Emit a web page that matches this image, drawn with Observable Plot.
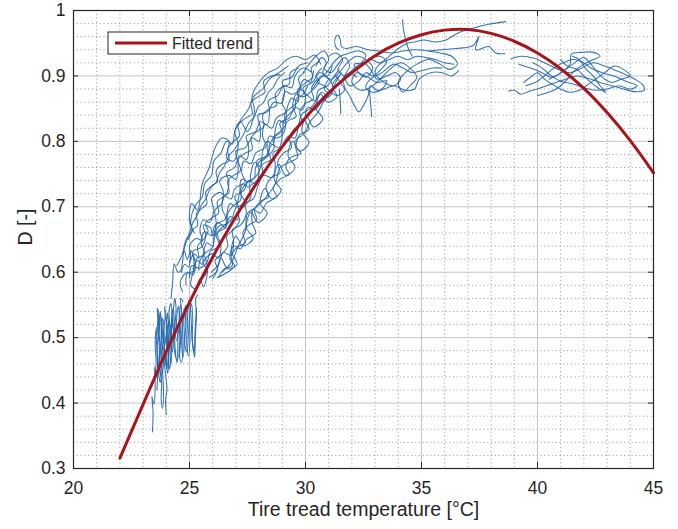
<!DOCTYPE html>
<html><head><meta charset="utf-8">
<script src="https://cdn.jsdelivr.net/npm/d3@7"></script>
<script src="https://cdn.jsdelivr.net/npm/@observablehq/plot@0.6"></script>
<style>body{margin:0;background:#fff;} #chart{position:relative;width:678px;height:529px;}</style>
</head><body><div id="chart"></div>
<script>
// Axis ticks
const xTicks = [20, 25, 30, 35, 40, 45];
const yTicks = [0.3, 0.4, 0.5, 0.6, 0.7, 0.8, 0.9, 1];
const xMinor = [21,22,23,24,26,27,28,29,31,32,33,34,36,37,38,39,41,42,43,44];
const yMinor = [0.32,0.34,0.36,0.38,0.42,0.44,0.46,0.48,0.52,0.54,0.56,0.58,0.62,0.64,0.66,0.68,0.72,0.74,0.76,0.78,0.82,0.84,0.86,0.88,0.92,0.94,0.96,0.98];

// Fitted trend
const fitTemp = [22,23,24,25,26,27,28,29,30,31,32,33,34,35,36,37,38,39,40,41,42,43,44,45];
const fitD = [0.316,0.398,0.479,0.554,0.623,0.685,0.742,0.792,0.836,0.874,0.905,0.931,0.950,0.963,0.970,0.971,0.965,0.953,0.935,0.911,0.881,0.844,0.801,0.752];

// Measured traces [temperature, D]
const lowA = [[23.40,0.356],[23.43,0.385],[23.38,0.410],[23.47,0.398],[23.52,0.425],[23.50,0.455],[23.58,0.440],[23.62,0.470],[23.57,0.500],[23.64,0.528],[23.61,0.545],[23.70,0.535],[23.68,0.505],[23.75,0.488],[23.72,0.455],[23.80,0.430],[23.78,0.405],[23.84,0.392],[23.88,0.418],[23.85,0.450],[23.92,0.472],[23.88,0.505],[23.95,0.532],[23.93,0.548],[24.00,0.525],[24.04,0.498],[23.99,0.470],[24.06,0.445],[24.10,0.462],[24.08,0.492],[24.15,0.515],[24.12,0.540],[24.20,0.552],[24.24,0.528],[24.19,0.500],[24.26,0.478],[24.30,0.500],[24.28,0.530]];
const lowB = [[24.00,0.382],[23.97,0.405],[24.03,0.420],[23.98,0.440],[23.90,0.465],[23.83,0.490],[23.78,0.515],[23.74,0.540],[23.80,0.525],[23.86,0.500],[23.93,0.488],[24.00,0.505],[24.08,0.478],[24.14,0.452],[24.20,0.470],[24.18,0.505],[24.26,0.522],[24.34,0.505],[24.40,0.475],[24.46,0.462],[24.50,0.495],[24.44,0.525],[24.52,0.548],[24.58,0.530],[24.62,0.498],[24.58,0.470],[24.66,0.462],[24.72,0.490],[24.70,0.520],[24.78,0.545],[24.84,0.520],[24.80,0.490],[24.88,0.478],[24.95,0.505],[24.92,0.535],[25.00,0.558],[25.06,0.535],[25.10,0.505],[25.16,0.482],[25.22,0.470],[25.25,0.500],[25.30,0.535],[25.27,0.560],[25.35,0.565]];
const lowC = [[23.50,0.440],[23.56,0.462],[23.52,0.490],[23.58,0.515],[23.66,0.502],[23.70,0.478],[23.66,0.450],[23.74,0.432],[23.82,0.448],[23.78,0.470],[23.86,0.486],[23.95,0.470],[24.02,0.452],[24.10,0.488],[24.05,0.515],[24.12,0.525],[24.22,0.512],[24.30,0.540],[24.36,0.560],[24.42,0.545],[24.38,0.515],[24.45,0.495],[24.55,0.515],[24.65,0.540],[24.62,0.560],[24.72,0.555]];
const lowD = [[24.20,0.560],[24.27,0.583],[24.34,0.613],[24.50,0.600],[24.63,0.603],[24.77,0.633],[24.90,0.620],[25.06,0.633],[25.20,0.612],[25.06,0.580],[25.25,0.575],[25.45,0.590],[25.60,0.578],[25.78,0.603],[25.65,0.625]];
const lowE = [[23.60,0.420],[23.63,0.452],[23.60,0.480],[23.66,0.512],[23.64,0.538],[23.70,0.520],[23.73,0.490],[23.70,0.462],[23.76,0.442],[23.82,0.468],[23.80,0.500],[23.85,0.530],[23.90,0.515],[23.92,0.482],[23.98,0.458],[24.02,0.482],[24.00,0.515],[24.06,0.538],[24.10,0.515],[24.14,0.485],[24.20,0.460],[24.24,0.490],[24.22,0.520],[24.30,0.545],[24.35,0.520],[24.33,0.488],[24.40,0.470]];
const lowF = [[24.55,0.470],[24.58,0.500],[24.55,0.528],[24.62,0.550],[24.68,0.525],[24.66,0.492],[24.72,0.470],[24.78,0.498],[24.76,0.530],[24.85,0.550],[24.90,0.520],[24.88,0.490],[24.95,0.472],[25.02,0.495],[25.00,0.530],[25.08,0.552],[25.14,0.528],[25.12,0.495],[25.20,0.478],[25.24,0.510],[25.30,0.545]];
const bandA = [[24.65,0.600],[24.80,0.612],[24.95,0.608],[25.05,0.625],[25.00,0.640],[25.30,0.652],[25.55,0.648],[25.45,0.665],[25.60,0.680],[25.85,0.676],[26.05,0.695],[25.95,0.712],[26.30,0.722],[26.55,0.718],[26.70,0.738],[26.60,0.752],[26.95,0.760],[27.15,0.778],[27.45,0.772],[27.55,0.792],[27.45,0.808],[27.85,0.815],[28.05,0.830],[28.35,0.826],[28.45,0.848],[28.40,0.862],[28.80,0.870],[29.05,0.885],[29.40,0.882],[29.55,0.900],[29.90,0.912],[30.25,0.906]];
const bandB = [[25.55,0.590],[25.75,0.602],[25.60,0.615],[25.95,0.628],[26.25,0.622],[26.35,0.642],[26.20,0.660],[26.55,0.668],[26.75,0.685],[27.05,0.680],[27.10,0.700],[26.95,0.716],[27.35,0.725],[27.55,0.740],[27.85,0.735],[28.00,0.755],[27.90,0.770],[28.30,0.778],[28.55,0.795],[28.85,0.790],[29.00,0.812],[28.90,0.828],[29.30,0.836],[29.55,0.852],[29.85,0.848],[30.00,0.868],[29.90,0.882],[30.30,0.890],[30.60,0.905],[30.95,0.900],[31.15,0.915]];
const bandC = [[24.70,0.570],[24.60,0.585],[24.90,0.600],[25.15,0.596],[25.25,0.615],[25.15,0.632],[25.50,0.638],[25.70,0.655],[25.60,0.672],[25.90,0.668],[26.00,0.655],[26.15,0.675],[26.10,0.695],[26.40,0.705],[26.45,0.724],[26.30,0.740],[26.70,0.748],[27.00,0.742],[27.10,0.765],[27.00,0.785],[27.40,0.790],[27.70,0.805],[28.00,0.800],[28.05,0.822],[27.95,0.840],[28.35,0.845],[28.65,0.860],[28.95,0.858],[29.10,0.878],[29.00,0.892],[29.40,0.898],[29.70,0.915],[30.10,0.920]];
const bandD = [[25.95,0.600],[26.25,0.612],[26.45,0.630],[26.80,0.626],[26.90,0.648],[26.85,0.665],[27.20,0.672],[27.45,0.690],[27.40,0.705],[27.75,0.712],[27.95,0.732],[28.20,0.748],[28.55,0.745],[28.70,0.765],[28.60,0.782],[28.95,0.790],[29.25,0.808],[29.55,0.805],[29.70,0.825],[29.85,0.842],[30.20,0.850],[30.45,0.862],[30.55,0.878],[30.95,0.885],[31.20,0.898],[31.45,0.910]];
const bandE = [[25.15,0.605],[25.35,0.618],[25.55,0.612],[25.60,0.630],[25.75,0.645],[26.00,0.640],[26.10,0.660],[26.35,0.672],[26.55,0.668],[26.60,0.688],[26.75,0.705],[27.00,0.700],[27.15,0.720],[27.30,0.735],[27.55,0.730],[27.65,0.752],[27.80,0.768],[28.05,0.762],[28.15,0.785],[28.35,0.800],[28.60,0.795],[28.70,0.818],[28.85,0.832],[29.10,0.828],[29.20,0.850],[29.40,0.866],[29.65,0.862],[29.75,0.882],[29.95,0.895],[30.20,0.890],[30.35,0.908]];
const bandF = [[24.45,0.610],[24.70,0.628],[24.85,0.650],[25.10,0.662],[25.05,0.680],[25.25,0.702],[25.55,0.715],[25.65,0.735],[25.95,0.748],[26.05,0.770],[26.35,0.782],[26.60,0.800],[26.85,0.796],[26.95,0.815],[27.25,0.835],[27.55,0.850],[27.75,0.868],[28.15,0.880],[28.45,0.895],[28.85,0.905],[29.25,0.915]];
const bandG = [[30.70,0.912],[30.45,0.900],[30.60,0.892],[30.20,0.875],[29.90,0.868],[29.60,0.872],[29.45,0.852],[29.60,0.838],[29.20,0.830],[29.05,0.812],[28.75,0.805],[28.45,0.808],[28.35,0.788],[28.50,0.772],[28.15,0.765],[27.90,0.748],[27.55,0.738],[27.25,0.742],[27.20,0.720],[27.40,0.706],[27.00,0.698],[26.80,0.680],[26.45,0.672],[26.20,0.676],[26.15,0.655],[26.30,0.640],[25.90,0.632],[25.75,0.615],[25.40,0.606],[25.10,0.610],[25.00,0.592]];
const bandH = [[29.95,0.905],[29.70,0.896],[29.80,0.880],[29.40,0.872],[29.15,0.876],[29.00,0.858],[29.15,0.845],[28.75,0.836],[28.55,0.820],[28.25,0.826],[28.15,0.808],[28.30,0.792],[27.85,0.782],[27.65,0.766],[27.35,0.770],[27.25,0.752],[27.40,0.738],[26.95,0.728],[26.80,0.712],[26.50,0.716],[26.40,0.698],[26.55,0.682],[26.10,0.672],[25.95,0.656],[25.65,0.662],[25.50,0.645],[25.65,0.628],[25.30,0.620],[25.20,0.602],[24.90,0.598],[24.85,0.580]];
const bandI = [[31.00,0.895],[30.80,0.880],[31.00,0.872],[30.65,0.858],[30.40,0.848],[30.10,0.852],[30.00,0.832],[30.15,0.818],[29.75,0.810],[29.60,0.792],[29.80,0.782],[29.35,0.775],[29.15,0.760],[29.30,0.750],[28.90,0.742],[28.60,0.728],[28.75,0.716],[28.30,0.705],[28.05,0.690],[27.75,0.696],[27.70,0.676],[27.85,0.660],[27.45,0.650],[27.20,0.636],[26.90,0.640],[26.75,0.620],[26.95,0.610],[26.55,0.598],[26.20,0.592]];
const bandJ = [[25.20,0.660],[25.00,0.680],[25.10,0.705],[25.35,0.695],[25.55,0.735],[25.85,0.760],[26.10,0.790],[26.40,0.805],[26.70,0.800],[26.60,0.775],[26.90,0.770],[27.10,0.795],[26.95,0.815],[27.20,0.830],[27.50,0.815],[27.80,0.845],[27.70,0.870],[28.00,0.890],[28.40,0.905],[28.80,0.912],[29.20,0.925],[29.60,0.930],[30.00,0.925],[30.40,0.932],[30.65,0.918]];
const bandK = [[26.40,0.600],[26.80,0.615],[27.10,0.640],[27.40,0.662],[27.50,0.690],[27.90,0.700],[28.30,0.715],[28.70,0.735],[28.90,0.760],[29.30,0.768],[29.65,0.775],[29.55,0.800],[29.95,0.812],[30.20,0.830],[30.55,0.845],[30.80,0.862],[31.05,0.872],[31.30,0.890],[31.55,0.905]];
const bandL = [[31.45,0.900],[31.15,0.885],[31.35,0.868],[30.95,0.860],[30.65,0.872],[30.45,0.850],[30.75,0.835],[30.35,0.822],[30.05,0.838],[29.85,0.815],[30.15,0.798],[29.75,0.785],[29.45,0.800],[29.25,0.778],[29.55,0.760],[29.15,0.748],[28.85,0.765],[28.65,0.742],[28.95,0.725],[28.55,0.712],[28.25,0.728],[28.05,0.705],[28.35,0.690],[27.95,0.676],[27.65,0.692],[27.45,0.668],[27.75,0.652],[27.30,0.640],[27.00,0.655],[26.80,0.632],[27.05,0.612],[26.65,0.605],[26.35,0.622],[26.15,0.600],[25.85,0.592]];
const bandM = [[25.00,0.615],[25.20,0.628],[25.40,0.622],[25.35,0.640],[25.60,0.650],[25.80,0.662],[25.70,0.675],[25.95,0.683],[26.25,0.690],[26.20,0.708],[26.45,0.715],[26.70,0.722],[26.65,0.740],[26.90,0.748],[27.20,0.755],[27.10,0.772],[27.40,0.782],[27.70,0.788],[27.65,0.805],[27.90,0.815],[28.20,0.822],[28.15,0.840],[28.45,0.850],[28.75,0.855],[28.70,0.872],[28.95,0.882],[29.30,0.888],[29.35,0.905],[29.70,0.912]];
const bandN = [[30.50,0.895],[30.25,0.880],[30.35,0.865],[30.00,0.858],[29.75,0.845],[29.85,0.828],[29.50,0.818],[29.30,0.805],[29.40,0.790],[29.05,0.782],[28.80,0.768],[28.90,0.752],[28.55,0.745],[28.30,0.730],[28.40,0.715],[28.05,0.708],[27.80,0.695],[27.90,0.680],[27.55,0.672],[27.30,0.660],[27.40,0.645],[27.05,0.638],[26.80,0.625],[26.85,0.610],[26.50,0.605],[26.25,0.592]];
const bandO = [[24.95,0.650],[25.15,0.665],[25.35,0.672],[25.30,0.690],[25.55,0.698],[25.75,0.705],[25.70,0.722],[25.95,0.732],[26.20,0.738],[26.15,0.755],[26.40,0.765],[26.70,0.770],[26.65,0.788],[26.90,0.800],[27.15,0.808],[27.10,0.825],[27.40,0.835],[27.70,0.842],[27.65,0.860],[27.95,0.868],[28.25,0.875],[28.20,0.892],[28.55,0.900],[28.90,0.902]];
const bandP = [[30.10,0.885],[29.85,0.870],[29.60,0.865],[29.55,0.850],[29.30,0.842],[29.05,0.830],[29.00,0.815],[28.70,0.808],[28.45,0.795],[28.40,0.780],[28.10,0.772],[27.85,0.760],[27.80,0.745],[27.50,0.738],[27.25,0.725],[27.20,0.710],[26.90,0.702],[26.65,0.690],[26.60,0.675],[26.30,0.665],[26.05,0.652],[26.00,0.638],[25.70,0.630],[25.45,0.618],[25.40,0.603]];
const bandQ = [[26.00,0.590],[26.20,0.605],[26.10,0.618],[26.40,0.628],[26.65,0.640],[26.60,0.655],[26.90,0.665],[27.15,0.678],[27.10,0.692],[27.40,0.702],[27.65,0.715],[27.60,0.730],[27.90,0.740],[28.15,0.752],[28.10,0.768],[28.40,0.778],[28.65,0.790],[28.60,0.805],[28.90,0.815],[29.15,0.826],[29.10,0.842],[29.40,0.852],[29.70,0.862],[29.65,0.878],[29.95,0.888],[30.30,0.898],[30.25,0.912],[30.60,0.922]];
const bandR = [[29.10,0.905],[28.80,0.895],[28.60,0.882],[28.40,0.875],[28.20,0.860],[27.95,0.852],[27.80,0.838],[27.55,0.828],[27.35,0.812],[27.15,0.800],[26.95,0.788],[26.70,0.778],[26.50,0.762],[26.30,0.752],[26.15,0.738],[25.90,0.728],[25.70,0.712],[25.50,0.702],[25.35,0.688],[25.15,0.676],[25.00,0.660],[24.85,0.645],[24.70,0.628]];
const topA = [[30.45,0.915],[30.70,0.928],[30.90,0.920],[30.75,0.905],[31.10,0.895],[31.45,0.905],[31.80,0.920],[32.20,0.930],[32.60,0.925],[32.90,0.912],[32.60,0.898],[32.20,0.905],[32.00,0.890],[32.40,0.878],[32.90,0.885],[33.30,0.898],[33.70,0.912],[34.10,0.920],[34.50,0.912],[34.80,0.898],[34.50,0.885],[34.20,0.875],[34.00,0.890],[34.30,0.905],[34.80,0.918],[35.30,0.925],[35.80,0.918],[36.20,0.910],[36.55,0.918],[36.30,0.930],[35.80,0.935],[35.30,0.938],[34.70,0.940],[34.20,0.938],[33.70,0.935],[33.20,0.938],[32.70,0.940],[32.20,0.945],[31.75,0.942],[31.55,0.945],[31.50,0.955],[31.40,0.962],[31.28,0.958],[31.30,0.945],[31.42,0.940]];
const topB = [[32.00,0.905],[32.40,0.915],[32.80,0.925],[33.20,0.920],[33.60,0.930],[34.00,0.942],[34.40,0.950],[34.70,0.952],[35.10,0.955],[35.60,0.952],[36.05,0.955],[36.60,0.966],[37.20,0.973],[37.90,0.979],[38.63,0.983]];
const topC = [[34.60,0.930],[34.40,0.945],[34.30,0.958],[34.22,0.972],[34.18,0.986]];
const topD = [[35.30,0.938],[35.90,0.940],[36.50,0.942],[37.00,0.944],[37.27,0.948],[37.48,0.961],[37.34,0.940],[37.91,0.945],[38.20,0.935],[38.60,0.934]];
const topE = [[31.30,0.900],[31.60,0.885],[31.90,0.870],[32.10,0.855],[32.30,0.845],[32.50,0.855],[32.70,0.870],[32.80,0.885],[33.10,0.878],[33.40,0.880],[33.80,0.885],[34.30,0.878],[34.70,0.880],[34.90,0.895],[35.40,0.905],[35.90,0.905],[36.30,0.900],[36.60,0.908]];
const topF = [[32.75,0.880],[32.80,0.860],[32.85,0.838]];
const topG = [[31.45,0.880],[31.50,0.860],[31.52,0.842]];
const topH = [[29.90,0.905],[30.20,0.920],[30.50,0.932],[30.80,0.938],[31.00,0.925],[30.80,0.912],[31.10,0.905],[31.40,0.918],[31.70,0.928],[31.90,0.915],[31.70,0.900],[31.90,0.885],[32.30,0.892],[32.60,0.905],[32.90,0.900],[33.20,0.908],[33.50,0.922],[33.20,0.930],[32.90,0.928]];
const topI = [[31.00,0.930],[31.30,0.935],[31.60,0.925],[31.40,0.910],[31.70,0.900],[32.10,0.912],[32.50,0.920],[32.80,0.910],[33.10,0.895],[33.50,0.900],[33.90,0.905],[34.10,0.895],[33.80,0.885],[33.40,0.890],[33.00,0.905],[33.20,0.918],[33.60,0.925],[34.00,0.930],[34.40,0.925],[34.80,0.930],[35.20,0.928],[35.60,0.925],[36.00,0.920],[36.40,0.918]];
const topJ = [[30.30,0.880],[30.60,0.895],[30.90,0.905],[31.20,0.920],[31.50,0.930],[31.90,0.935],[32.30,0.938],[32.60,0.932],[32.40,0.920],[32.10,0.918],[32.30,0.905],[32.70,0.898],[33.10,0.890],[33.50,0.893],[33.30,0.880],[32.90,0.875],[32.60,0.882],[32.80,0.895],[33.30,0.905],[33.80,0.918],[34.20,0.912],[34.60,0.905],[35.00,0.908],[35.50,0.912],[35.90,0.912]];
const topK = [[29.80,0.880],[30.10,0.870],[30.40,0.862],[30.70,0.875],[31.00,0.868],[31.20,0.880],[31.00,0.895],[30.70,0.900],[30.50,0.890],[30.80,0.885],[31.10,0.875],[31.40,0.870],[31.70,0.880],[31.60,0.895],[31.90,0.905],[32.20,0.898]];
const rightA = [[38.85,0.926],[39.30,0.930],[39.85,0.927],[40.43,0.918],[40.90,0.910],[41.40,0.905],[41.90,0.912],[42.40,0.920],[42.90,0.915],[43.40,0.908],[43.80,0.902],[44.20,0.895],[44.55,0.886],[44.60,0.878],[44.20,0.876],[43.70,0.880],[43.20,0.885],[42.70,0.890],[42.20,0.896],[41.70,0.900],[41.20,0.895],[40.80,0.890],[40.40,0.885],[40.00,0.880],[39.60,0.876],[39.28,0.872],[39.00,0.878],[38.75,0.877]];
const rightB = [[39.20,0.918],[39.70,0.912],[40.20,0.905],[40.60,0.898],[41.00,0.905],[41.40,0.918],[41.45,0.933],[41.90,0.936],[42.44,0.936],[42.70,0.930],[42.40,0.925],[42.00,0.918],[41.60,0.908],[41.30,0.895],[41.00,0.885],[40.70,0.878],[40.30,0.873],[40.00,0.870]];
const rightC = [[40.50,0.895],[40.90,0.902],[41.30,0.912],[41.60,0.920],[42.00,0.928],[42.30,0.918],[42.60,0.905],[42.90,0.895],[43.20,0.890],[43.60,0.895],[44.00,0.900],[43.70,0.910],[43.30,0.915],[42.90,0.905],[42.50,0.895],[42.10,0.885],[41.80,0.878],[41.40,0.875],[41.00,0.880],[40.60,0.888],[40.30,0.895],[40.00,0.905],[39.70,0.898],[39.40,0.890]];
const rightD = [[41.00,0.925],[41.30,0.915],[41.70,0.910],[42.00,0.900],[42.30,0.890],[42.60,0.882],[42.95,0.875],[42.70,0.885],[42.40,0.900],[42.10,0.910],[41.80,0.925],[41.50,0.930]];
const rightE = [[39.50,0.885],[39.90,0.890],[40.30,0.900],[40.70,0.912],[41.10,0.920],[41.50,0.925],[41.90,0.922],[42.30,0.912],[42.80,0.905],[43.30,0.900],[43.80,0.892],[44.30,0.885],[44.00,0.880],[43.50,0.885],[43.00,0.880],[42.50,0.878],[42.00,0.882],[41.50,0.888],[41.00,0.892],[40.60,0.900],[40.20,0.912],[39.80,0.920]];

const traces = {lowA, lowB, lowC, lowD, lowE, lowF, bandA, bandB, bandC, bandD, bandE, bandF, bandG, bandH, bandI, bandJ, bandK, bandL, bandM, bandN, bandO, bandP, bandQ, bandR, topA, topB, topC, topD, topE, topF, topG, topH, topI, topJ, topK, rightA, rightB, rightC, rightD, rightE};
const measured = Object.entries(traces).flatMap(([id, pts]) => pts.map(([t, d]) => ({id, t, d})));
const fitted = fitTemp.map((t, i) => ({t, d: fitD[i]}));

const FONT = "'Liberation Sans', Arial, Helvetica, sans-serif";
const INK = "#262626";
const RED = "#a8141a";

const chart = Plot.plot({
  width: 678, height: 529,
  marginLeft: 73, marginRight: 25, marginTop: 10, marginBottom: 61,
  x: {domain: [20, 45]},
  y: {domain: [0.3, 1]},
  style: {fontFamily: FONT, fontSize: "17.5px", color: INK, background: "#fff"},
  marks: [
    Plot.gridX(xMinor, {stroke: "#8c8c8c", strokeOpacity: 0.8, strokeDasharray: "1.2,2.6"}),
    Plot.gridY(yMinor, {stroke: "#8c8c8c", strokeOpacity: 0.8, strokeDasharray: "1.2,2.6"}),
    Plot.gridX(xTicks, {stroke: "#c4c4c4", strokeOpacity: 1}),
    Plot.gridY(yTicks, {stroke: "#c4c4c4", strokeOpacity: 1}),
    Plot.line(measured, {x: "t", y: "d", z: "id", stroke: "#1f65ad", strokeWidth: 1.05, strokeOpacity: 0.9, curve: "catmull-rom"}),
    Plot.line(fitted, {x: "t", y: "d", stroke: RED, strokeWidth: 3, curve: "natural"}),
    Plot.frame({stroke: INK, strokeWidth: 1.2}),
    Plot.ruleX(xTicks, {insetTop: 452, stroke: INK}),
    Plot.ruleX(xTicks, {insetBottom: 452, stroke: INK}),
    Plot.ruleY(yTicks, {insetRight: 575, stroke: INK}),
    Plot.ruleY(yTicks, {insetLeft: 575, stroke: INK}),
    Plot.axisX(xTicks, {tickSize: 0, tickPadding: 13, label: null}),
    Plot.axisY(yTicks, {tickSize: 0, tickPadding: 8, label: null, tickFormat: d => d === 1 ? "1" : d.toFixed(1)}),
    Plot.text(["Tire tread temperature [°C]"], {text: d => d, frameAnchor: "bottom", dy: 47, fontSize: 19.5, fill: INK}),
    Plot.text(["D [-]"], {text: d => d, frameAnchor: "left", dx: -48, dy: 6, rotate: -90, fontSize: 19.5, fill: INK})
  ]
});

document.getElementById("chart").appendChild(chart);

// Legend box inside the plot area
const svg = d3.select(chart.tagName === "svg" ? chart : chart.querySelector("svg"));
const lg = svg.append("g").attr("class", "legend").attr("text-anchor", "start");
lg.append("rect").attr("x", 108).attr("y", 32).attr("width", 150).attr("height", 22)
  .attr("fill", "#fff").attr("stroke", INK).attr("stroke-width", 1);
lg.append("line").attr("x1", 115).attr("x2", 167).attr("y1", 43).attr("y2", 43)
  .attr("stroke", RED).attr("stroke-width", 3);
lg.append("text").attr("x", 172).attr("y", 43).attr("dy", "0.35em").attr("text-anchor", "start")
  .attr("font-family", FONT).attr("font-size", 16).attr("fill", INK).text("Fitted trend");
</script>
</body></html>
